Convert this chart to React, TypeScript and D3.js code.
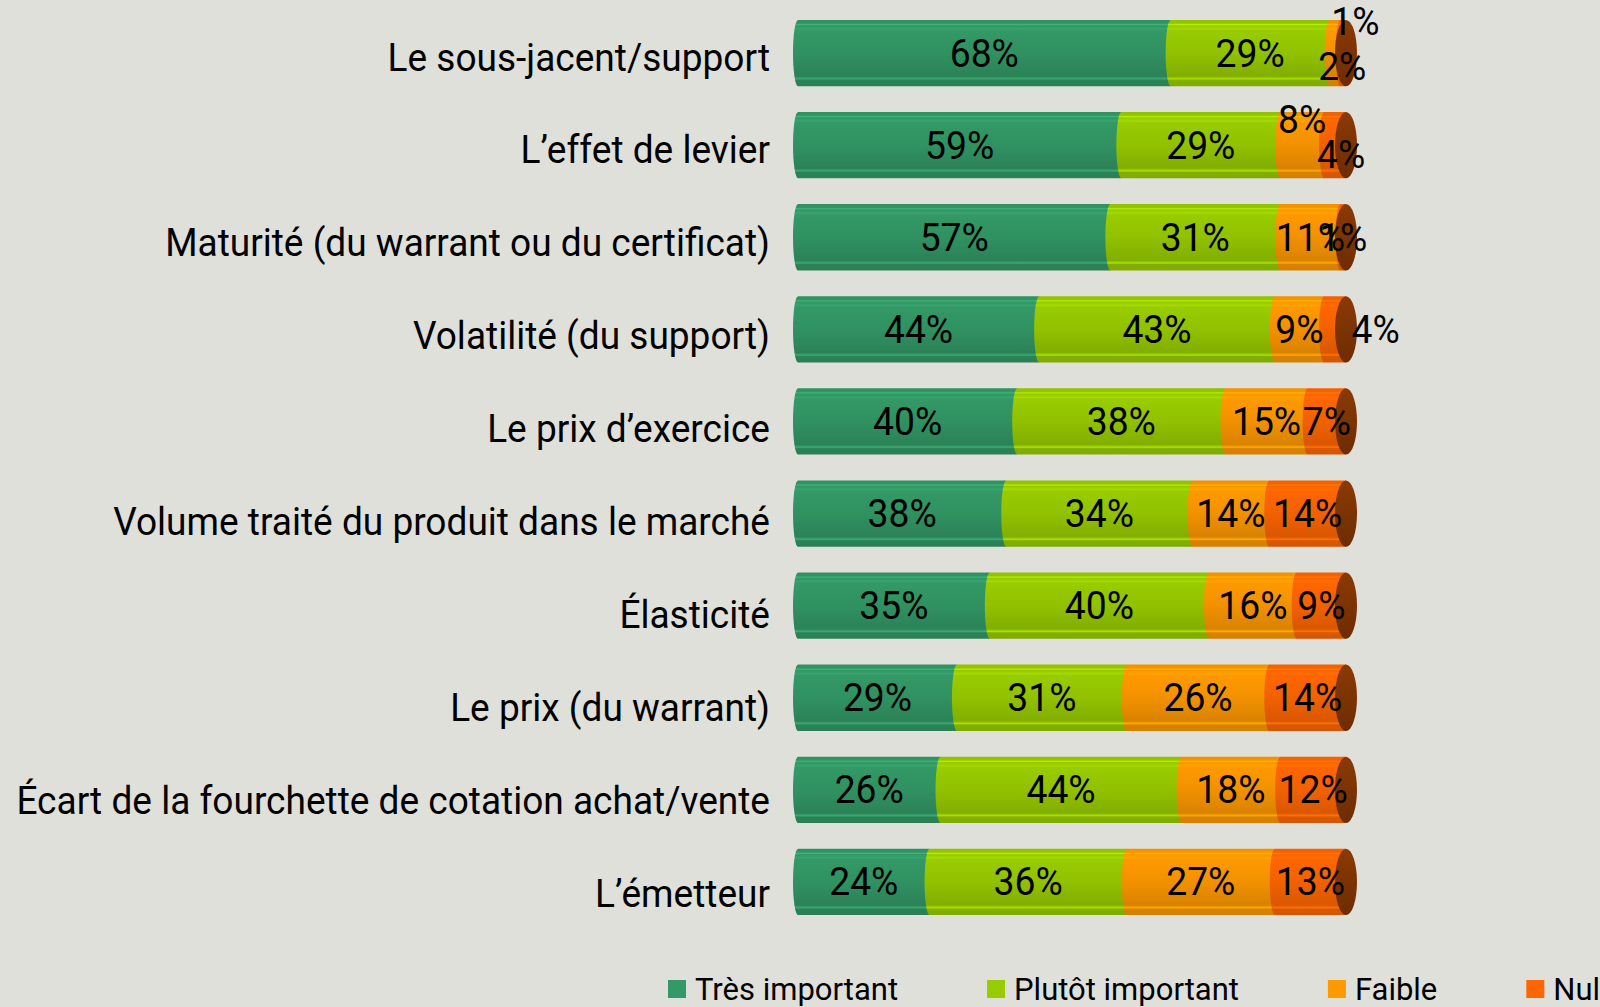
import React from "react";
import * as d3 from "d3";

const categories = [
  "Le sous-jacent/support",
  "L\u2019effet de levier",
  "Maturité (du warrant ou du certificat)",
  "Volatilité (du support)",
  "Le prix d\u2019exercice",
  "Volume traité du produit dans le marché",
  "Élasticité",
  "Le prix (du warrant)",
  "Écart de la fourchette de cotation achat/vente",
  "L\u2019émetteur",
];
const seriesNames = ["Très important", "Plutôt important", "Faible", "Nul"];
const tresImportant = [68, 59, 57, 44, 40, 38, 35, 29, 26, 24];
const plutotImportant = [29, 29, 31, 43, 38, 34, 40, 31, 44, 36];
const faible = [2, 8, 11, 9, 15, 14, 16, 26, 18, 27];
const nul = [1, 4, 1, 4, 7, 14, 9, 14, 12, 13];

const seriesColors = ["#339966", "#99CC00", "#FF9900", "#FF6600"];
const W = 1600;
const H = 1007;
const BG = "#E0E0DA";
const FONT = "Roboto, 'Open Sans', sans-serif";

function measure(text: string, size: number) {
  if (typeof document === "undefined") return text.length * size * 0.5;
  const c = document.createElement("canvas");
  const ctx = c.getContext("2d")!;
  ctx.font = `${size}px Roboto`;
  return ctx.measureText(text).width;
}

export default function App() {
  React.useEffect(() => {
    document.body.style.margin = "0";
    document.body.style.background = BG;
    document.body.style.overflow = "hidden";
  }, []);

  const table = categories.map((c, i) => ({
    cat: c,
    [seriesNames[0]]: tresImportant[i],
    [seriesNames[1]]: plutotImportant[i],
    [seriesNames[2]]: faible[i],
    [seriesNames[3]]: nul[i],
  }));
  const stacked = d3.stack<any>().keys(seriesNames)(table);

  const x = d3.scaleLinear().domain([0, 100]).range([798, 1346]);
  const y = d3
    .scaleBand<string>()
    .domain(categories)
    .range([7, 928])
    .paddingInner(0.28)
    .paddingOuter(0.14);
  // category labels sit on a slightly different (3D projected) axis
  const yLab = d3.scalePoint<string>().domain(categories).range([57, 893]);
  const bh = y.bandwidth();
  const rx = 5;
  const capRx = 11;

  const catSize = 38;
  const catScale = 0.975;
  const valSize = 38;
  const valScale = 0.98;
  const capH = 0.711;

  const segPath = (x0: number, x1: number, top: number, bot: number) =>
    `M${x0},${top}L${x1},${top}L${x1},${bot}L${x0},${bot}A${rx},${bh / 2} 0 0 1 ${x0},${top}Z`;

  // value labels with simple collision handling
  const labels: any[] = [];
  categories.forEach((c, i) => {
    const cy = (y(c) as number) + bh / 2;
    let prev: any = null;
    stacked.forEach((s, k) => {
      const d = s[i];
      const v = d[1] - d[0];
      const cx = (x(d[0]) + x(d[1])) / 2;
      const txt = `${v}%`;
      const w = measure(txt, valSize) * valScale;
      const lab: any = { key: `${i}-${k}`, cx, cy, txt, w, dy: 0, dx: 0 };
      if (prev) {
        const overlap = prev.cx + prev.w / 2 - (cx - w / 2);
        const r = overlap / Math.min(prev.w, w);
        if (r > 0.7) {
          // heavy collision: split above / below
          lab.dy = -bh * 0.47;
          lab.dx = w * 0.25;
          prev.dy = bh * 0.2;
          prev.dx = w * 0.15;
        } else if (r > 0.45) {
          // leave as drawn
        } else if (r > 0.3) {
          prev.dy = -bh * 0.39;
          lab.dy = bh * 0.14;
          lab.dx = overlap * 0.4;
        } else if (r > 0) {
          // push outside, beyond the end cap
          lab.dx = x(100) + capRx / 2 + w / 2 - cx;
        }
      }
      labels.push(lab);
      prev = lab;
    });
  });

  // legend layout
  const legSize = 31;
  const legSq = 18;
  const legGap = 88;
  const legStart = 668;
  const legY = 989;
  let lx = legStart;
  const legend = seriesNames.map((n, k) => {
    const item = { n, k, x: lx };
    lx += legSq + 10 + measure(n, legSize) + legGap;
    return item;
  });

  return (
    <svg
      width={W}
      height={H}
      style={{ position: "absolute", left: 0, top: 0, display: "block" }}
      fontFamily={FONT}
    >
      <defs>
        {seriesColors.map((c, k) => {
          const base = d3.color(c)!;
          return (
            <linearGradient key={k} id={`g${k}`} x1="0" y1="0" x2="0" y2="1">
              <stop offset="0" stopColor={base.darker(0.15).formatHex()} />
              <stop offset="0.05" stopColor={base.darker(0.1).formatHex()} />
              <stop offset="0.07" stopColor={base.brighter(0.45).formatHex()} />
              <stop offset="0.09" stopColor={base.darker(0.05).formatHex()} />
              <stop offset="0.14" stopColor={base.brighter(0.2).formatHex()} />
              <stop offset="0.16" stopColor={base.formatHex()} />
              <stop offset="0.5" stopColor={base.darker(0.15).formatHex()} />
              <stop offset="0.85" stopColor={base.darker(0.45).formatHex()} />
              <stop offset="0.89" stopColor={base.brighter(0.3).formatHex()} />
              <stop offset="0.91" stopColor={base.darker(0.45).formatHex()} />
              <stop offset="1" stopColor={base.darker(0.5).formatHex()} />
            </linearGradient>
          );
        })}
        <linearGradient id="gcap" x1="0" y1="0" x2="0" y2="1">
          <stop offset="0" stopColor="#8A3A05" />
          <stop offset="1" stopColor="#6E2C00" />
        </linearGradient>
      </defs>
      <rect width={W} height={H} fill={BG} />

      {categories.map((c) => {
        const cy = yLab(c) as number;
        return (
          <text
            key={c}
            transform={`translate(770,${cy + (catSize * capH) / 2}) scale(${catScale},1)`}
            textAnchor="end"
            fontSize={catSize}
            fill="#000"
          >
            {c}
          </text>
        );
      })}

      {categories.map((c, i) => {
        const top = y(c) as number;
        const bot = top + bh;
        return (
          <g key={c}>
            {stacked.map((s, k) => {
              const d = s[i];
              return (
                <path
                  key={k}
                  d={segPath(x(d[0]), x(d[1]), top, bot)}
                  fill={`url(#g${k})`}
                />
              );
            })}
            <ellipse
              cx={x(100)}
              cy={top + bh / 2}
              rx={capRx}
              ry={bh / 2}
              fill="url(#gcap)"
            />
          </g>
        );
      })}

      {labels.map((l) => (
        <text
          key={l.key}
          transform={`translate(${l.cx + l.dx},${l.cy + l.dy + (valSize * capH) / 2}) scale(${valScale},1)`}
          textAnchor="middle"
          fontSize={valSize}
          fill="#000"
        >
          {l.txt}
        </text>
      ))}

      {legend.map((it) => (
        <g key={it.n}>
          <rect
            x={it.x}
            y={legY - legSq / 2}
            width={legSq}
            height={legSq}
            fill={seriesColors[it.k]}
          />
          <text
            x={it.x + legSq + 9}
            y={legY + (legSize * capH) / 2}
            fontSize={legSize}
            fill="#000"
          >
            {it.n}
          </text>
        </g>
      ))}
    </svg>
  );
}
